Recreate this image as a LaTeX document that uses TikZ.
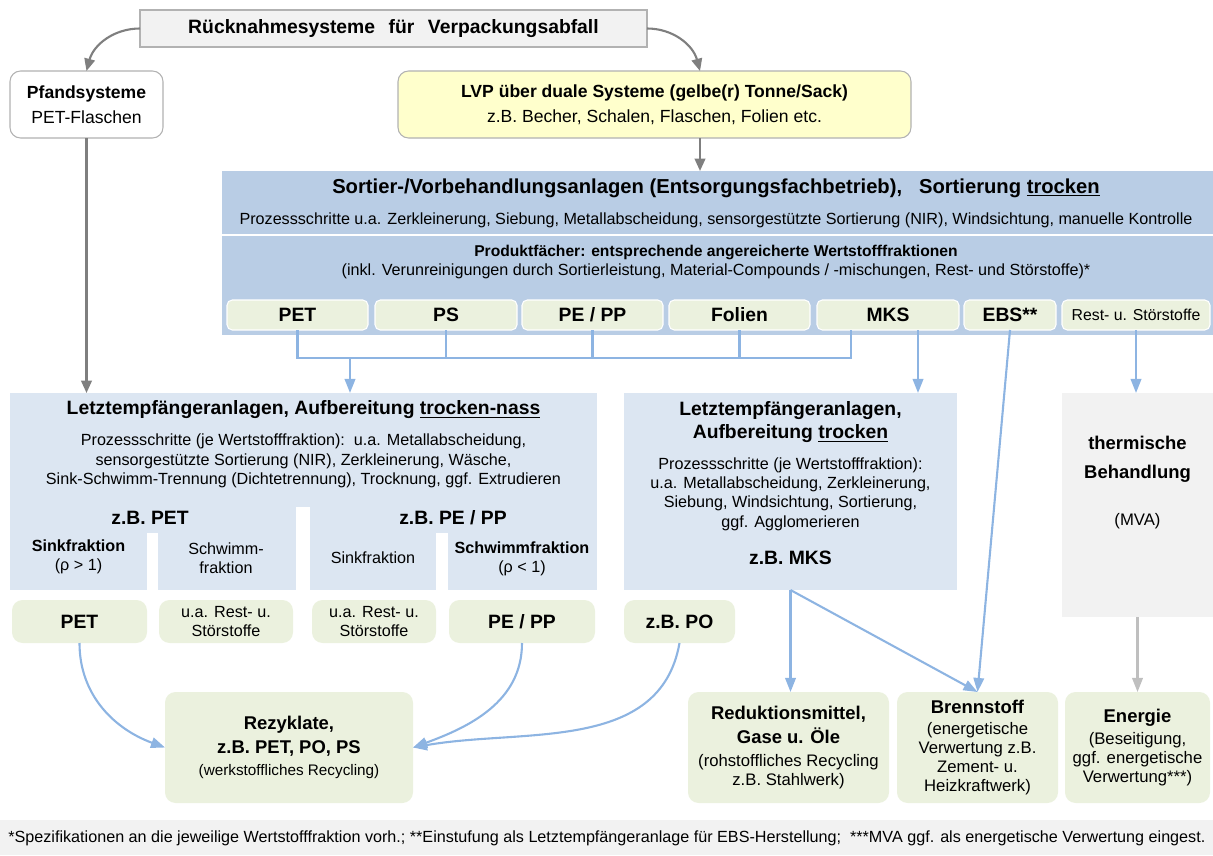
\documentclass[tikz,border=0pt]{standalone}
\usepackage{fontspec}
\setmainfont{Liberation Sans}
\usetikzlibrary{arrows.meta,calc,positioning}

\definecolor{sortblue}{HTML}{B9CDE5}
\definecolor{paleblue}{HTML}{DCE6F2}
\definecolor{palegreen}{HTML}{EBF1DE}
\definecolor{paleyellow}{HTML}{FFFFCC}
\definecolor{palegray}{HTML}{F2F2F2}
\definecolor{linkblue}{HTML}{8DB4E2}
\definecolor{linkgray}{HTML}{7F7F7F}

\newcommand\pxu{0.02cm}
\newcommand\fnorm{\fontsize{10}{14}\selectfont}
\newcommand\fbig{\fontsize{11}{13.6}\selectfont\bfseries}
\newcommand\fsmall{\fontsize{9.2}{11}\selectfont}
\newcommand\fout{\fontsize{9.5}{10.8}\selectfont}
\newcommand\fouthead{\fontsize{10.5}{13}\selectfont\bfseries}
\newcommand\fnote{\fontsize{9.2}{11}\selectfont}

\tikzset{
  dims/.style 2 args = {minimum width=#1*\pxu, minimum height=#2*\pxu},
  block/.style = {inner sep=0pt, outer sep=0pt, align=center},
  greybox/.style = {block, fill=palegray, draw=gray!60, line width=0.6pt},
  sortbox/.style = {block, fill=sortblue},
  lastbox/.style = {block, fill=paleblue},
  prodbox/.style = {block, fill=palegreen, draw=white, line width=0.6pt,
    rounded corners=3pt, font=\fontsize{11}{13}\selectfont\bfseries},
  greenbox/.style = {block, fill=palegreen, rounded corners=6pt, font=\fout},
  txt/.style = {inner sep=0pt, align=center, font=\fsmall},
  garrow/.style = {draw=linkgray, line width=1.2pt, -{Triangle[width=6pt,length=7pt]}},
  barrow/.style = {draw=linkblue, line width=1.2pt, -{Triangle[width=6pt,length=8pt]}},
  bline/.style = {draw=linkblue, line width=1.2pt},
}

\begin{document}
\begin{tikzpicture}[x=0.02cm, y=-0.02cm]
  \useasboundingbox (0,0) rectangle (1213,855);

  % top level
  \node[greybox, dims={507}{37}, font=\fontsize{11}{13}\selectfont\bfseries] (rueck) at (393.5,28.5)
    {R\"ucknahmesysteme\hspace{0.7em}f\"ur\hspace{0.7em}Verpackungsabfall};
  \node[block, fill=white, draw=gray!60, line width=0.6pt, rounded corners=6pt,
    dims={153}{67}, font=\fnorm] (pfand) at (86.5,104.5)
    {{\bfseries Pfandsysteme}\\PET-Flaschen};
  \node[block, fill=paleyellow, draw=gray!60, line width=0.6pt, rounded corners=6pt,
    dims={513}{67}, font=\fnorm] (lvp) at (654.5,104.5)
    {{\bfseries LVP über duale Systeme (gelbe(r) Tonne/Sack)}\\z.B. Becher, Schalen, Flaschen, Folien etc.};

  % sorting plant
  \node[sortbox, dims={991}{63}] (sortA) at (717.5,202.5) {};
  \node[sortbox, dims={991}{99}] (sortB) at (717.5,285.5) {};
  \node[txt, font=\fontsize{11.5}{14}\selectfont\bfseries] (sortT) at (716,188)
    {Sortier-/Vorbehandlungsanlagen (Entsorgungsfachbetrieb),\ \ \ Sortierung \underline{trocken}};
  \node[txt] (sortP) at (716,220)
    {Prozessschritte u.a. Zerkleinerung, Siebung, Metallabscheidung,\ sensorgestützte Sortierung (NIR), Windsichtung,\ manuelle Kontrolle};
  \node[txt] (prodT) at (716,262)
    {{\fontsize{8.9}{11}\selectfont\bfseries Produktfächer: entsprechende angereicherte Wertstofffraktionen}\\
     (inkl. Verunreinigungen durch Sortierleistung, Material-Compounds\ /\ -mischungen, Rest- und Störstoffe)*};

  \node[prodbox, dims={141}{30}] (pPET)  at (297.5,315) {PET};
  \node[prodbox, dims={142}{30}] (pPS)   at (446,315)   {PS};
  \node[prodbox, dims={141}{30}] (pPEPP) at (592.5,315) {PE / PP};
  \node[prodbox, dims={141}{30}] (pFol)  at (739.5,315) {Folien};
  \node[prodbox, dims={142}{30}] (pMKS)  at (888,315)   {MKS};
  \node[prodbox, dims={92}{30}]  (pEBS)  at (1010,315)  {EBS**};
  \node[prodbox, dims={148}{30}, font=\fontsize{9}{11}\selectfont] (pRest) at (1136,315)
    {Rest- u. Störstoffe};

  % last recipients, dry-wet
  \node[lastbox, dims={587}{197}] (ltn) at (303.5,491.5) {};
  \fill[white] (296,507) rectangle (310,592);
  \fill[white] (147,533) rectangle (158,592);
  \fill[white] (436,533) rectangle (448,592);
  \node[txt, font=\fbig] (ltnT) at (303.5,410)
    {Letztempfängeranlagen, Aufbereitung \underline{trocken-nass}};
  \node[txt] (ltnP) at (303.5,461)
    {Prozessschritte (je Wertstofffraktion):\ \ u.a. Metallabscheidung,\\
     sensorgestützte Sortierung (NIR), Zerkleinerung, Wäsche,\\
     Sink-Schwimm-Trennung (Dichtetrennung), Trocknung, ggf. Extrudieren};
  \node[txt, font=\fbig] (zbPET) at (150,518) {z.B. PET};
  \node[txt, font=\fbig] (zbPE) at (453,518) {z.B. PE / PP};
  \node[txt] (sinkA) at (78.5,557) {{\bfseries Sinkfraktion}\\(ρ > 1)};
  \node[txt] (schwA) at (226,558) {Schwimm-\\fraktion};
  \node[txt] (sinkB) at (373,558) {Sinkfraktion};
  \node[txt] (schwB) at (522,559) {{\bfseries Schwimmfraktion}\\(ρ < 1)};

  \node[greenbox, dims={135}{43}, font=\fbig] (gPET) at (79.5,621.5) {PET};
  \node[greenbox, dims={134}{43}, font=\fsmall] (gRestA) at (226,621.5) {u.a. Rest- u.\\Störstoffe};
  \node[greenbox, dims={124}{43}, font=\fsmall] (gRestB) at (374,621.5) {u.a. Rest- u.\\Störstoffe};
  \node[greenbox, dims={146}{43}, font=\fbig] (gPEPP) at (522,621.5) {PE / PP};
  \node[greenbox, dims={111}{43}, font=\fbig] (gPO) at (679.5,621.5) {z.B. PO};

  % last recipients, dry
  \node[lastbox, dims={333}{197}] (ltr) at (790.5,491.5) {};
  \node[txt, font=\fbig] (ltrT) at (790.5,422)
    {Letztempfängeranlagen,\\Aufbereitung \underline{trocken}};
  \node[txt] (ltrP) at (790.5,494)
    {Prozessschritte (je Wertstofffraktion):\\u.a. Metallabscheidung, Zerkleinerung,\\
     Siebung, Windsichtung, Sortierung,\\ggf. Agglomerieren};
  \node[txt, font=\fbig] (ltrZ) at (790.5,558) {z.B. MKS};

  % thermal treatment
  \node[greybox, draw=none, dims={151}{224}] (therm) at (1137.5,505) {};
  \node[txt, font=\fontsize{10.5}{16.5}\selectfont\bfseries] (thermT) at (1137.5,459.5)
    {thermische\\Behandlung};
  \node[txt, font=\fout] (thermM) at (1137.5,521) {(MVA)};

  % outputs
  \node[greenbox, dims={248}{111}, font=\fontsize{8.7}{10.8}\selectfont] (rez) at (289,747.5)
    {{\fouthead Rezyklate,}\\[2.8pt]{\fouthead z.B. PET, PO, PS}\\[1.7pt](werkstoffliches Recycling)};
  \node[greenbox, dims={201}{111}] (redu) at (788.5,747.5)
    {{\fouthead Reduktionsmittel,}\\[3pt]{\fouthead Gase u. Öle}\\[2pt](rohstoffliches Recycling\\z.B. Stahlwerk)};
  \node[greenbox, dims={161}{111}] (brenn) at (977.5,747.5)
    {{\fouthead Brennstoff}\\[1.7pt](energetische\\Verwertung z.B.\\Zement- u.\\Heizkraftwerk)};
  \node[greenbox, dims={145}{111}] (energ) at (1137.5,747.5)
    {{\fouthead Energie}\\[1.7pt](Beseitigung,\\ggf. energetische\\Verwertung***)};

  % footnote
  \node[block, fill=palegray, dims={1213}{35}] (foot) at (606.5,837.5) {};
  \node[txt, font=\fnote, anchor=west] (footT) at (8,838)
    {*Spezifikationen an die jeweilige Wertstofffraktion vorh.; **Einstufung als Letztempfängeranlage für EBS-Herstellung;\ \ ***MVA ggf. als energetische Verwertung eingest.};

  % connectors
  \coordinate (lvpx) at (700,0);
  \coordinate (bus) at (851,358);
  \coordinate (busA) at (350,358);
  \coordinate (mksR) at (918,0);

  \draw[garrow] (rueck.west) to[out=180,in=75] (pfand.north);
  \draw[garrow] (rueck.east) to[out=0,in=105] (lvp.north -| lvpx);
  \draw[garrow] (lvp.south -| lvpx) -- (sortA.north -| lvpx);
  \draw[garrow] (pfand.south) -- (pfand.south |- ltn.north);

  \draw[bline] (pPET.south) |- (bus) -- (bus |- pMKS.south);
  \foreach \n in {pPS,pPEPP,pFol}
    \draw[bline] (\n.south) -- (\n.south |- bus);
  \draw[barrow] (busA) -- (busA |- ltn.north);
  \draw[barrow] (pMKS.south -| mksR) -- (ltr.north -| mksR);
  \draw[barrow] (pEBS.south) -- (brenn.north);
  \draw[barrow] (pRest.south) -- (pRest.south |- therm.north);

  \draw[barrow] (ltr.south) -- (ltr.south |- redu.north);
  \draw[barrow] (ltr.south) -- (brenn.north);
  \draw[draw=gray!50, line width=1.2pt, -{Triangle[width=6pt,length=8pt]}]
    (therm.south) -- (energ.north);

  \draw[barrow] (gPET.south) to[out=-90,in=160] (rez.west);
  \draw[barrow] (gPEPP.south) to[out=-90,in=20] (rez.east);
  \draw[barrow] (gPO.south) to[out=-100,in=10] (rez.east);
\end{tikzpicture}
\end{document}
